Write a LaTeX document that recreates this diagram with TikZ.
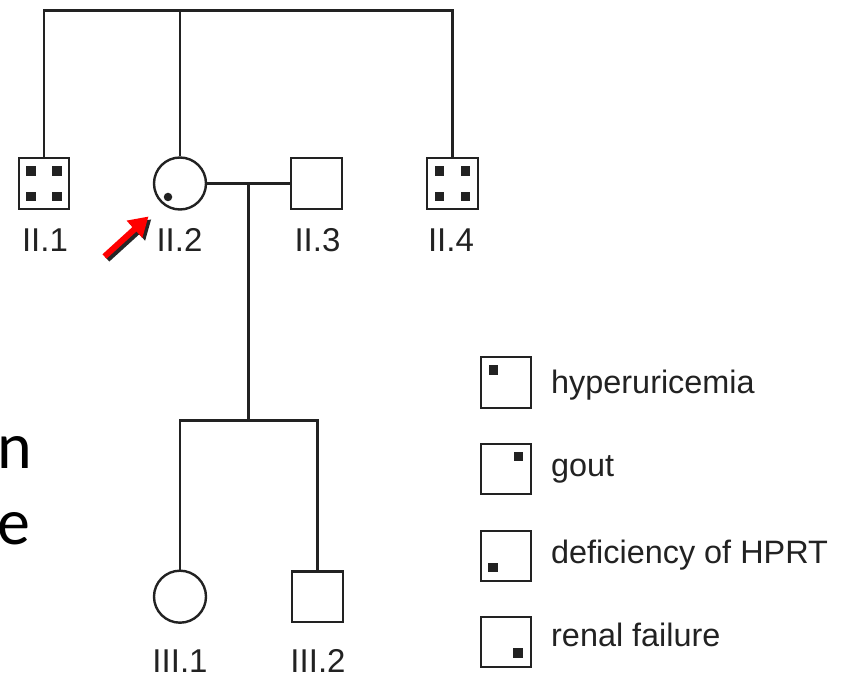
\documentclass[tikz,border=0pt]{standalone}
\usepackage{fontspec}
\setmainfont{Liberation Sans}
\newfontfamily\slidefont{Carlito}
\usetikzlibrary{arrows.meta}
\definecolor{ink}{HTML}{222222}
\tikzset{
  ln/.style={draw=ink, line width=2.4pt},
  sq/.style={ln, rectangle, minimum size=50.5pt, inner sep=0pt, fill=white},
  ci/.style={ln, circle, minimum size=52pt, inner sep=0pt, fill=white},
  mk/.style={rectangle, fill=ink, minimum size=9.5pt, inner sep=0pt},
  dotmk/.style={circle, fill=ink, minimum size=8.5pt, inner sep=0pt},
  lab/.style={anchor=base, inner sep=0pt, text=ink, font=\fontsize{33}{38}\selectfont},
  leg/.style={anchor=base west, inner sep=0pt, text=ink, font=\fontsize{32.4}{38}\selectfont},
  side/.style={anchor=base west, inner sep=0pt, text=black, font=\slidefont\fontsize{66}{76}\selectfont},
  arr/.style={line width=6pt, -{Triangle[length=19pt, width=22pt]}},
}
\begin{document}
\begin{tikzpicture}[x=1pt, y=-1pt]
\useasboundingbox (0,0) rectangle (841,676);
\fill[white] (0,0) rectangle (841,676);

% coordinates for connector corners
\coordinate (top) at (248.5,10.5);
\coordinate (sib) at (248.5,420.5);

% generation II
\node[sq] (II1) at (44,183.5) {};
\node[ci] (II2) at (180,183.5) {};
\node[sq] (II3) at (316.5,183.5) {};
\node[sq] (II4) at (452.5,183.5) {};
% generation III
\node[ci] (III1) at (180,596.7) {};
\node[sq] (III2) at (317.5,596.7) {};

% connectors
\draw[ln] (II1.north) -- (II1.north |- top) -- (II4.north |- top) -- (II4.north);
\draw[ln] (II2.north) -- (II2.north |- top);
\draw[ln] (II2.east) -- (II3.west);
\coordinate (drop) at (248.5,183.5);
\draw[ln] (drop) -- (sib);
\draw[ln] (III1.north) -- (III1.north |- sib) -- (III2.north |- sib) -- (III2.north);

% markers II.1 and II.4
\foreach \n in {II1,II4}{
  \node[mk] at ([shift={(-13,-12.5)}]\n.center) {};
  \node[mk] at ([shift={(13,-12.5)}]\n.center) {};
  \node[mk] at ([shift={(-13,13)}]\n.center) {};
  \node[mk] at ([shift={(13,13)}]\n.center) {};
}
\node[dotmk] (II2dot) at ([shift={(-12,13.5)}]II2.center) {};

% labels
\node[lab] (lII1) at (45,251.7) {II.1};
\node[lab] (lII2) at (179.5,251.7) {II.2};
\node[lab] (lII3) at (317.5,251.7) {II.3};
\node[lab] (lII4) at (451,251.7) {II.4};
\node[lab] (lIII1) at (180,672) {III.1};
\node[lab] (lIII2) at (318,672) {III.2};

% proband arrow (dark shadow, then red arrow)
\coordinate (atail) at (104.5,256.5);
\coordinate (atip) at (148.5,216.5);
\draw[arr, draw=black!85] ([shift={(2.8,2.8)}]atail) -- ([shift={(2.8,2.8)}]atip);
\draw[arr, draw=red] (atail) -- (atip);

% legend
\node[sq] (L1) at (506,382.5) {};
\node[sq] (L2) at (506,469) {};
\node[sq] (L3) at (506,556) {};
\node[sq] (L4) at (506,642) {};
\node[mk] at ([shift={(-12.5,-12.5)}]L1.center) {};
\node[mk] at ([shift={(12.5,-12.5)}]L2.center) {};
\node[mk] at ([shift={(-13,11.5)}]L3.center) {};
\node[mk] at ([shift={(12,11)}]L4.center) {};
\node[leg] (t1) at (551,393.3) {hyperuricemia};
\node[leg] (t2) at (551,476.7) {gout};
\node[leg] (t3) at (551,563.3) {deficiency of HPRT};
\node[leg] (t4) at (551,646.7) {renal failure};

% partial slide text at the left edge
\node[side] (sn) at (-3,468) {n};
\node[side] (se) at (-3,544) {e};
\end{tikzpicture}
\end{document}
